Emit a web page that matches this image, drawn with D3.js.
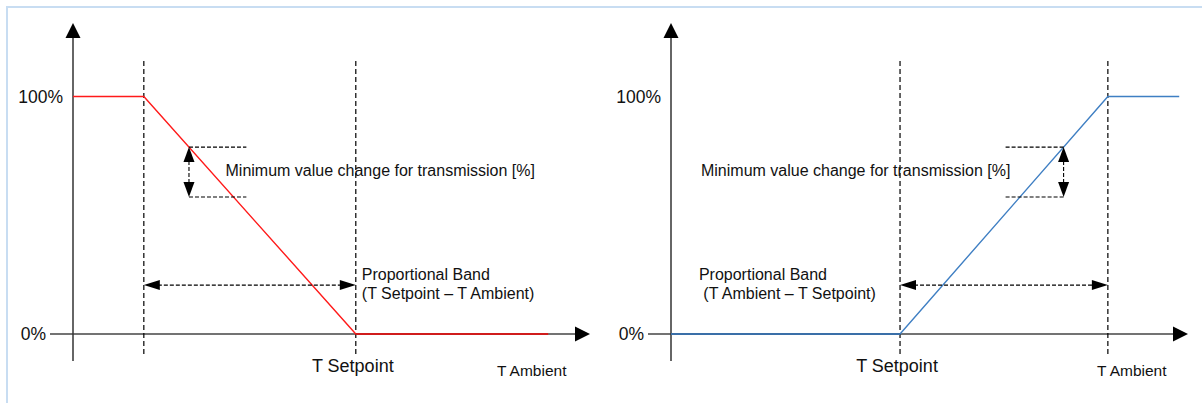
<!DOCTYPE html>
<html>
<head>
<meta charset="utf-8">
<script src="https://cdn.jsdelivr.net/npm/d3@7"></script>
<style>
  html, body { margin: 0; padding: 0; background: #fff; }
  svg text { font-family: "Liberation Sans", Arial, sans-serif; fill: #111; }
</style>
</head>
<body>
<svg id="chart" width="1202" height="403"></svg>
<script>
// percent axis
const percentTicks = [0, 100];
const percentLabels = ["0%", "100%"];

// x is in arbitrary temperature units 0..100 along each axis
const coolingCurve = [[0, 100], [13.7, 100], [54.7, 0], [91.9, 0]];
const heatingCurve = [[0, 0], [44.3, 0], [84.5, 100], [98.3, 100]];

// band limits for each panel (setpoint/ambient marks)
const coolingBand = [13.7, 54.7];
const heatingBand = [44.3, 84.5];

// minimum value change annotation (percent)
const minChange = [57.7, 78.7];
const bandLevel = 20.6;

const panels = [
  {offset: 0, curve: coolingCurve, band: coolingBand, color: "#ff1a1a", flatColor: "#d01c1c",
   minText: "Minimum value change for transmission [%]",
   bandText: ["Proportional Band", "(T Setpoint \u2013 T Ambient)"],
   setpoint: 54.7, ambientLabelX: 82, minSide: "right"},
  {offset: 598, curve: heatingCurve, band: heatingBand, color: "#3f7fc3", flatColor: "#3a6fa8",
   minText: "Minimum value change for transmission [%]",
   bandText: ["Proportional Band", " (T Ambient \u2013 T Setpoint)"],
   setpoint: 44.3, ambientLabelX: 82.4, minSide: "left"}
];

const svg = d3.select("#chart");

// light blue frame
svg.append("line").attr("x1", 6).attr("x2", 1202).attr("y1", 7).attr("y2", 7)
  .attr("stroke", "#c8ddf2").attr("stroke-width", 2);
svg.append("line").attr("x1", 7).attr("x2", 7).attr("y1", 6).attr("y2", 403)
  .attr("stroke", "#c8ddf2").attr("stroke-width", 2);

const y = d3.scaleLinear().domain([0, 100]).range([334, 96.5]);

function arrowHead(g, x, yy, dir, len, half) {
  // dir: "up", "down", "left", "right" ; tip at x,yy
  let pts;
  if (dir === "up") pts = [[x, yy], [x - half, yy + len], [x + half, yy + len]];
  if (dir === "down") pts = [[x, yy], [x - half, yy - len], [x + half, yy - len]];
  if (dir === "right") pts = [[x, yy], [x - len, yy - half], [x - len, yy + half]];
  if (dir === "left") pts = [[x, yy], [x + len, yy - half], [x + len, yy + half]];
  g.append("path").attr("d", "M" + pts.join("L") + "Z").attr("fill", "#000");
}

panels.forEach(function (p) {
  const x = d3.scaleLinear().domain([0, 100]).range([73 + p.offset, 590 + p.offset]);
  const g = svg.append("g");

  // axes
  g.append("line").attr("x1", x(0) - 23).attr("x2", x(100) - 12)
    .attr("y1", y(0)).attr("y2", y(0)).attr("stroke", "#444").attr("stroke-width", 1.5);
  arrowHead(g, x(100), y(0), "right", 15, 7.5);
  g.append("line").attr("x1", x(0)).attr("x2", x(0))
    .attr("y1", y(0) + 27).attr("y2", 36).attr("stroke", "#333").attr("stroke-width", 1.5);
  arrowHead(g, x(0), 23, "up", 15, 7.5);

  // percent labels
  g.selectAll("text.pct").data(percentTicks).enter().append("text")
    .attr("class", "pct")
    .attr("x", (d, i) => x(0) - (i === 0 ? 27 : 10))
    .attr("y", d => y(d) + 6)
    .attr("text-anchor", "end")
    .attr("font-size", 17.5)
    .text((d, i) => percentLabels[i]);

  // dashed band limits
  g.selectAll("line.lim").data(p.band).enter().append("line")
    .attr("class", "lim")
    .attr("x1", d => x(d)).attr("x2", d => x(d))
    .attr("y1", 61).attr("y2", 355)
    .attr("stroke", "#000").attr("stroke-width", 1.2).attr("stroke-dasharray", "5,3");

  // curve
  const line = d3.line().x(d => x(d[0])).y(d => y(d[1]));
  g.append("path").datum(p.curve).attr("d", line)
    .attr("fill", "none").attr("stroke", p.color).attr("stroke-width", 1.4);
  const flat = p.curve.filter(d => d[1] === 0);
  g.append("path").datum(flat).attr("d", line)
    .attr("fill", "none").attr("stroke", p.flatColor).attr("stroke-width", 2);

  // minimum change annotation: vertical double arrow at curve
  const lo = p.curve[1], hi = p.curve[2];
  const tAt = v => lo[0] + (v - lo[1]) / (hi[1] - lo[1]) * (hi[0] - lo[0]);
  const ax = x(tAt(minChange[1]));
  const ext = p.minSide === "right" ? 11.1 : -11.5;
  minChange.forEach(function (v) {
    g.append("line").attr("x1", ax).attr("x2", x(tAt(minChange[1]) + ext))
      .attr("y1", y(v)).attr("y2", y(v))
      .attr("stroke", "#000").attr("stroke-width", 1.1).attr("stroke-dasharray", "4,2");
  });
  g.append("line").attr("x1", ax).attr("x2", ax)
    .attr("y1", y(minChange[1]) + 14).attr("y2", y(minChange[0]) - 14)
    .attr("stroke", "#000").attr("stroke-width", 1.1).attr("stroke-dasharray", "4,2");
  arrowHead(g, ax, y(minChange[1]), "up", 15, 5.5);
  arrowHead(g, ax, y(minChange[0]), "down", 15, 5.5);

  g.append("text")
    .attr("x", p.minSide === "right" ? x(29.5) : x(5.8))
    .attr("y", 176)
    .attr("font-size", 16)
    .text(p.minText);

  // proportional band double arrow
  g.append("line").attr("x1", x(p.band[0]) + 14).attr("x2", x(p.band[1]) - 14)
    .attr("y1", y(bandLevel)).attr("y2", y(bandLevel))
    .attr("stroke", "#000").attr("stroke-width", 1.1).attr("stroke-dasharray", "4,2");
  arrowHead(g, x(p.band[0]), y(bandLevel), "left", 16, 5);
  arrowHead(g, x(p.band[1]), y(bandLevel), "right", 16, 5);

  const bt = g.append("text")
    .attr("x", p.minSide === "right" ? x(p.band[1]) + 6 : x(5.4))
    .attr("y", 280)
    .attr("font-size", 16)
    .attr("xml:space", "preserve");
  bt.append("tspan").text(p.bandText[0]);
  bt.append("tspan").attr("x", bt.attr("x")).attr("dy", 19).text(p.bandText[1]);

  // x labels
  g.append("text").attr("x", x(p.setpoint) - 3).attr("y", 372)
    .attr("text-anchor", "middle").attr("font-size", 18).text("T Setpoint");
  g.append("text").attr("x", x(p.ambientLabelX)).attr("y", 376)
    .attr("font-size", 15.5).text("T Ambient");
});
</script>
</body>
</html>
